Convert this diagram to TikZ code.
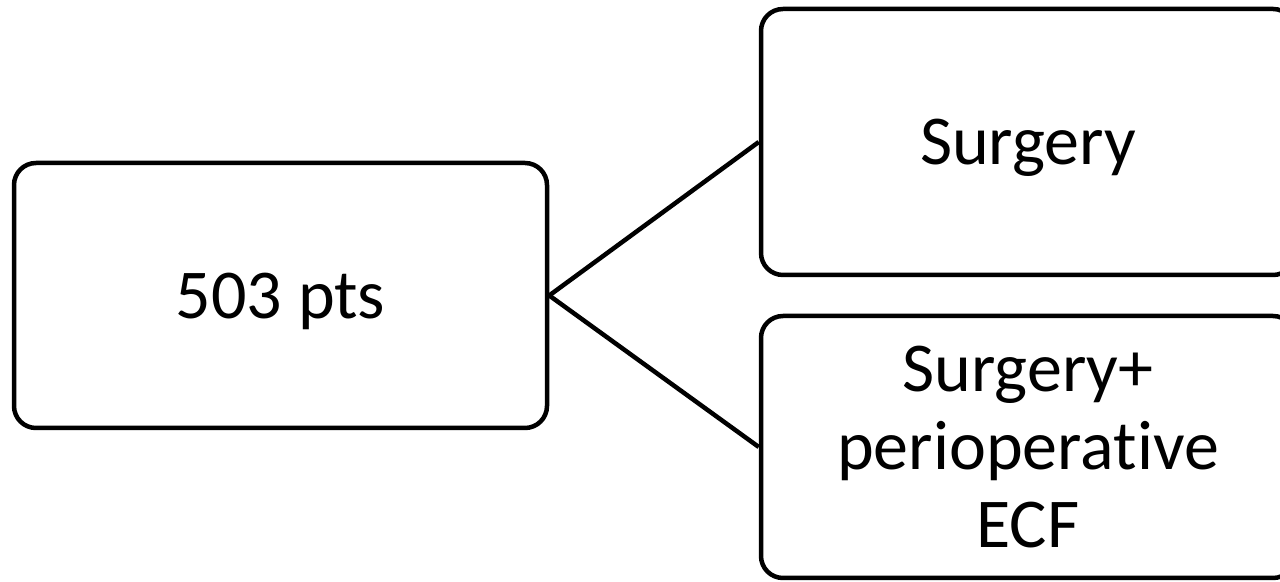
\documentclass[tikz,border=0pt]{standalone}
\usepackage{fontspec}
\setmainfont{Carlito}[Ligatures=NoCommon]
\begin{document}
\begin{tikzpicture}[x=1pt,y=1pt,
    box/.style={draw, line width=2.25pt, rounded corners=11pt, minimum width=267pt,
      inner sep=0pt, align=center, text depth=0pt, font=\fontsize{35}{39}\selectfont},
    link/.style={line width=2.25pt}]
  % page: 1280x582 px, 1px = 0.5pt
  \useasboundingbox (0,0) rectangle (640,291);
  % boxes
  \node[box, minimum width=266.5pt, minimum height=132.5pt] (pts) at (140.25,143.25) {503 pts};
  \node[box, minimum height=133pt] (surg) at (514,220) {Surgery};
  \node[box, minimum height=131pt] (surgecf) at (514,67.5) {Surgery+\\perioperative\\ECF};
  % links
  \draw[link] (pts.east) -- (surg.west);
  \draw[link] (pts.east) -- (surgecf.west);
\end{tikzpicture}
\end{document}
